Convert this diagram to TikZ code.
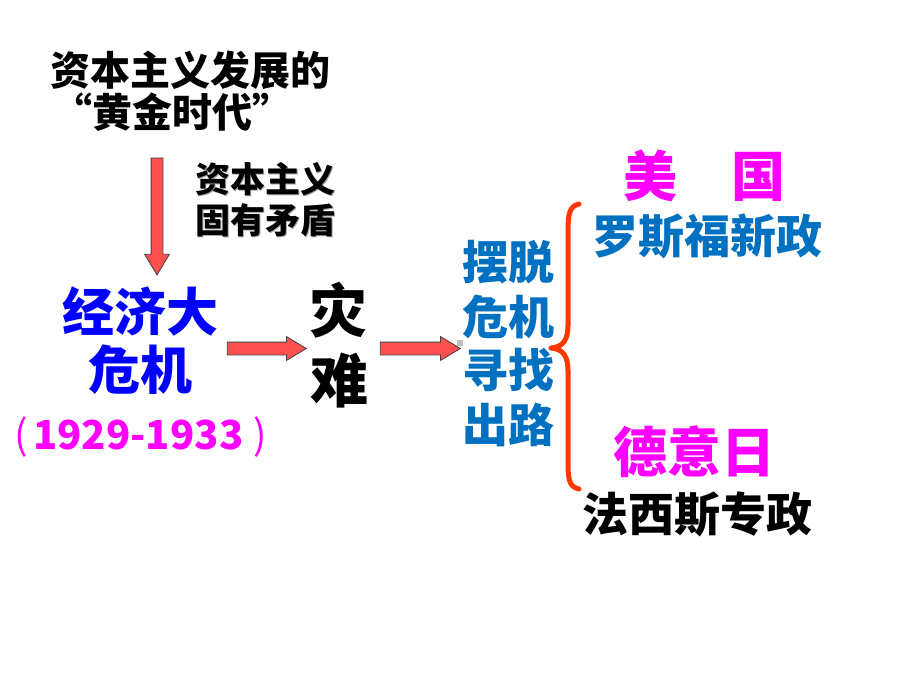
\documentclass[tikz,border=0pt]{standalone}
\usepackage{fontspec}
\setmainfont{Noto Sans CJK SC}
\usetikzlibrary{shapes.arrows}
\definecolor{myblue}{RGB}{0,0,255}
\definecolor{skyblue}{RGB}{0,112,192}
\definecolor{mymag}{RGB}{255,0,255}
\definecolor{arrowred}{RGB}{255,80,80}
\definecolor{bracered}{RGB}{255,55,0}
\newcommand{\fs}[1]{\fontsize{#1}{#1}\selectfont\bfseries}
\tikzset{
  txt/.style={inner sep=0pt, anchor=center},
  blockarrow/.style={single arrow, draw=black!75, fill=arrowred, line width=0.8pt,
    inner xsep=0pt, inner ysep=6pt, minimum width=23pt, single arrow head extend=5.5pt,
    single arrow tip angle=62, anchor=center},
}
\begin{document}
\begin{tikzpicture}[x=1pt,y=-1pt]
\useasboundingbox[fill=white] (0,0) rectangle (920,690);
% top texts
\node[txt] (t1) at (190,70) {\fs{40}资本主义发展的};
\node[txt] (t2) at (172,112) {\fs{40}“黄金时代”};
% shadowed cause
\node[txt, text=black!35] (c1s) at (266.5,180.5) {\fs{35}资本主义};
\node[txt, text=black!35] (c2s) at (266.5,221.5) {\fs{35}固有矛盾};
\node[txt] (c1) at (265,179) {\fs{35}资本主义};
\node[txt] (c2) at (265,220) {\fs{35}固有矛盾};
% down arrow
\node[blockarrow, minimum height=117pt, rotate=-90, inner ysep=5.5pt,
  minimum width=24pt, single arrow head extend=6.5pt] (ad) at (157,211.5) {};
% crisis
\node[txt, text=myblue] (k1) at (140,311) {\fs{52}经济大};
\node[txt, text=myblue] (k2) at (140,370) {\fs{52}危机};
\node[txt, text=mymag, anchor=west] (k3) at (9,437)
  {\fs{40}\makebox[24pt][c]{\mdseries(}1929-1933\makebox[34pt][c]{\mdseries)}};
% arrows
\node[blockarrow, minimum height=79pt] (a1) at (261.5,348.5) {};
\node[txt] (z1) at (338,310) {\fs{58}灾};
\node[txt] (z2) at (339,381) {\fs{58}难};
\node[blockarrow, minimum height=80pt] (a2) at (415,348.5) {};
\fill[black!25] (457,340) rectangle (463,346);
% blue column
\node[txt, text=skyblue] (b1) at (508,262) {\fs{46}摆脱};
\node[txt, text=skyblue] (b2) at (508,317) {\fs{46}危机};
\node[txt, text=skyblue] (b3) at (508,370) {\fs{46}寻找};
\node[txt, text=skyblue] (b4) at (508,425) {\fs{46}出路};
% brace
\coordinate (brtop) at (579,204);
\coordinate (brtip) at (551,348);
\coordinate (brbot) at (579,489);
\draw[bracered, line width=5pt, line cap=round, line join=round]
  (brtop) .. controls (569,206) and (568,215) .. (568,232)
  -- (568,325) .. controls (568,340) and (563,347) .. (brtip)
  .. controls (563,349) and (568,356) .. (568,371)
  -- (568,462) .. controls (568,479) and (569,487) .. (brbot);
% right texts
\node[txt, text=mymag] (r1) at (704,176) {\fs{54}美\hspace{1em}国};
\node[txt, text=skyblue] (r2) at (707,236) {\fs{46}罗斯福新政};
\node[txt, text=mymag] (r3) at (694,452) {\fs{54}德意日};
\node[txt] (r4) at (697,514) {\fs{46}法西斯专政};
\end{tikzpicture}
\end{document}
